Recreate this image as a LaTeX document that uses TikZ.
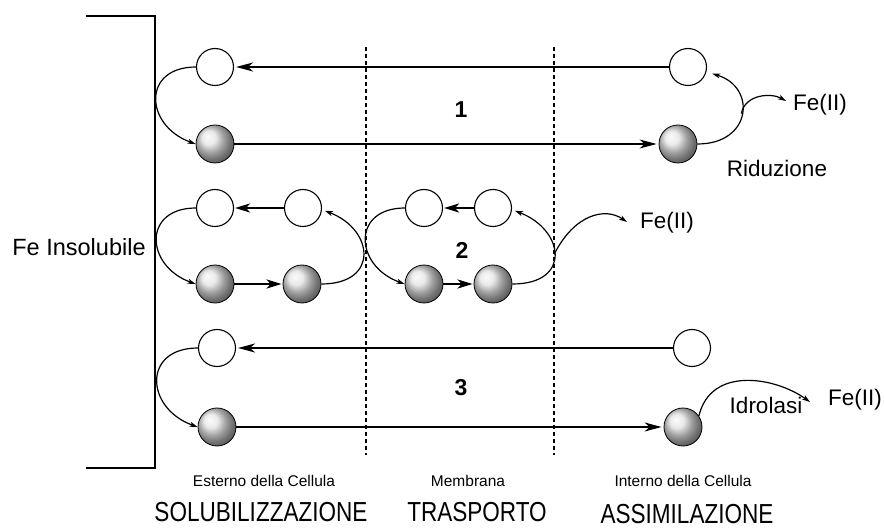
\documentclass[tikz,border=0pt]{standalone}
\usepackage{fontspec}
\setmainfont{Liberation Sans}
\newfontfamily\narrowsans{Liberation Sans}[FakeStretch=0.82]
\usetikzlibrary{arrows.meta,calc}
\begin{document}
\begin{tikzpicture}[x=1pt,y=1pt,
  openc/.style={circle,draw,line width=1.1pt,fill=white,minimum size=37pt,inner sep=0pt},
  ballc/.style={circle,draw,line width=0.8pt,shading=ball,ball color=gray!22,minimum size=38pt,inner sep=0pt},
  mainline/.style={line width=1.8pt,-{Stealth[length=17pt,width=9pt,inset=5pt]},shorten >=2pt},
  thickline/.style={line width=2.3pt,-{Stealth[length=15pt,width=9pt,inset=4pt]},shorten >=1pt},
  curvy/.style={line width=1.2pt,-{Stealth[length=8pt,width=5pt,inset=2pt]}},
  dashline/.style={line width=1.8pt,dash pattern=on 4pt off 3pt},
  lbl/.style={font=\fontsize{22.5}{26}\selectfont,inner sep=0pt},
  biglefttext/.style={font=\fontsize{23.5}{27}\selectfont,inner sep=0pt},
  numlbl/.style={font=\fontsize{23}{27}\selectfont\bfseries,inner sep=0pt},
  smalllbl/.style={font=\fontsize{15.5}{18}\selectfont,inner sep=0pt},
  biglbl/.style={font=\narrowsans\fontsize{27.5}{30}\selectfont,inner sep=0pt}
]
\useasboundingbox (0,0) rectangle (884,-529);

% bracket
\draw[line width=1.2pt] (86,-16) -- (155,-16) -- (155,-468) -- (86,-468);
\node[biglefttext] (fei) at (79,-247) {Fe Insolubile};

% dashed membrane lines
\coordinate (d1t) at (366,-47); \coordinate (d1b) at (366,-455);
\coordinate (d2t) at (554,-47); \coordinate (d2b) at (554,-455);
\draw[dashline] (d1t) -- (d1b);
\draw[dashline] (d2t) -- (d2b);

% row 1
\node[openc] (c1L) at (215,-67) {};
\node[ballc] (s1L) at (215,-144) {};
\node[openc] (c1R) at (688,-67) {};
\node[ballc] (s1R) at (678,-144) {};
\draw[mainline] (c1R) -- (c1L);
\draw[mainline] (s1L) -- (s1R);
\draw[curvy] (c1L.west) to[out=180,in=160,looseness=1.8] (s1L.west);
\draw[curvy,shorten >=6pt] (s1R.east) .. controls +(55,0) and +(50,-15) .. coordinate[pos=0.5] (b1) (c1R.-15);
\coordinate (f1) at (786,-101);
\draw[curvy] (b1) .. controls +(4,20) and +(-14,8) .. (f1);
\node[lbl] (fe1) at (820,-105) {Fe(II)};
\node[lbl] (rid) at (777,-168) {Riduzione};
\node[numlbl] (n1) at (461,-110) {1};

% row 2
\node[openc] (c2a) at (215,-208) {};
\node[openc] (c2b) at (303,-208) {};
\node[ballc] (s2a) at (215,-284) {};
\node[ballc] (s2b) at (302,-284) {};
\node[openc] (c2c) at (424,-208) {};
\node[openc] (c2d) at (493,-208) {};
\node[ballc] (s2c) at (424,-284) {};
\node[ballc] (s2d) at (493,-284) {};
\draw[thickline] (c2b) -- (c2a);
\draw[thickline] (s2a) -- (s2b);
\draw[thickline] (c2d) -- (c2c);
\draw[thickline] (s2c) -- (s2d);
\draw[curvy] (c2a.west) to[out=180,in=160,looseness=1.8] (s2a.west);
\draw[curvy,shorten >=3pt] (s2b.east) .. controls +(58,0) and +(52,-20) .. (c2b.-5);
\draw[curvy] (c2c.west) to[out=180,in=160,looseness=1.8] (s2c.west);
\draw[curvy,shorten >=3pt] (s2d.east) .. controls +(60,0) and +(52,-20) .. coordinate[pos=0.5] (b2) (c2d.-5);
\coordinate (f2) at (627,-222);
\draw[curvy] (b2) .. controls +(20,40) and +(-22,15) .. (f2);
\node[lbl] (fe2) at (667,-223) {Fe(II)};
\node[numlbl] (n2) at (462,-250) {2};

% row 3
\node[openc] (c3L) at (217,-348) {};
\node[ballc] (s3L) at (217,-427) {};
\node[openc] (c3R) at (692,-348) {};
\node[ballc] (s3R) at (683,-427) {};
\draw[mainline] (c3R) -- (c3L);
\draw[mainline] (s3L) -- (s3R);
\draw[curvy] (c3L.west) to[out=180,in=160,looseness=1.8] (s3L.west);
\coordinate (f3) at (810,-402);
\draw[curvy] (s3R.35) .. controls +(12,50) and +(-35,25) .. (f3);
\node[lbl] (idr) at (766,-405) {Idrolasi};
\node[lbl] (fe3) at (855,-400) {Fe(II)};
\node[numlbl] (n3) at (461,-388) {3};

% bottom labels
\node[smalllbl] (est) at (264,-481) {Esterno della Cellula};
\node[smalllbl] (mem) at (468,-481) {Membrana};
\node[smalllbl] (int) at (683,-481) {Interno della Cellula};
\node[biglbl] (sol) at (261,-512) {SOLUBILIZZAZIONE};
\node[biglbl] (tra) at (477,-512) {TRASPORTO};
\node[biglbl] (ass) at (687,-514) {ASSIMILAZIONE};
\end{tikzpicture}
\end{document}
